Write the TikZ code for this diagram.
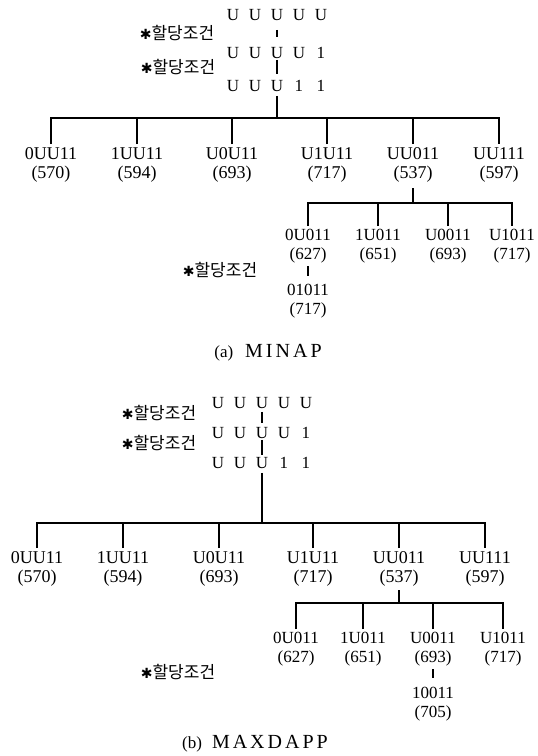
\documentclass[tikz,border=0pt]{standalone}
\usepackage{fontspec}
\setmainfont{Liberation Serif}
\newfontfamily\korfont{Noto Sans CJK KR}
\newfontfamily\symfont{DejaVu Sans}
\newcommand\condtext{{\symfont\fontsize{14}{14}\selectfont ✱}{\korfont 할당조건}}
\newcommand\cellrow[5]{\makebox[22pt]{#1}\makebox[22pt]{#2}\makebox[22pt]{#3}\makebox[22pt]{#4}\makebox[22pt]{#5}}
\tikzset{
  rowtext/.style={font=\fontsize{17}{17}\selectfont, inner sep=0pt},
  leaf/.style={font=\fontsize{18}{19}\selectfont, align=center, inner sep=3pt, anchor=north},
  leafb/.style={leaf, font=\fontsize{17}{19}\selectfont},
  condlbl/.style={font=\fontsize{17}{17}\selectfont, inner sep=0pt},
  captext/.style={font=\fontsize{20}{20}\selectfont, inner sep=0pt},
  edge/.style={line width=1.1pt}
}
\begin{document}
\begin{tikzpicture}[x=1pt,y=-1pt]
\useasboundingbox (0,0) rectangle (538,756);

% ---------- (a) MINAP ----------
\node[rowtext] (ar1) at (277,15) {\cellrow UUUUU};
\node[rowtext] (ar2) at (277,53) {\cellrow UUUU1};
\node[rowtext] (ar3) at (277,86) {\cellrow UUU11};
\node[condlbl] (acond1) at (177,33) {\condtext};
\node[condlbl] (acond2) at (178,67) {\condtext};
\coordinate (abus1) at (277,118);

\node[leaf] (aa1) at (51,144) {0UU11\\(570)};
\node[leaf] (aa2) at (137,144) {1UU11\\(594)};
\node[leaf] (aa3) at (232,144) {U0U11\\(693)};
\node[leaf] (aa4) at (327,144) {U1U11\\(717)};
\node[leaf] (aa5) at (413,144) {UU011\\(537)};
\node[leaf] (aa6) at (499,144) {UU111\\(597)};

\draw[edge, shorten <=9pt, shorten >=10pt] (ar1.south) -- (ar2.north);
\draw[edge, shorten <=1pt, shorten >=6pt] (ar2.south) -- (ar3.north);
\draw[edge, shorten <=4pt] (ar3.south) -- (abus1);
\draw[edge] (aa1.north) |- (abus1) -| (aa6.north);
\foreach \n in {aa2,aa3,aa4,aa5} \draw[edge] (\n.north) -- (\n.north |- abus1);

\coordinate (abus2) at (413,203);
\node[leafb] (ab1) at (308,226) {0U011\\(627)};
\node[leafb] (ab2) at (378,226) {1U011\\(651)};
\node[leafb] (ab3) at (448,226) {U0011\\(693)};
\node[leafb] (ab4) at (512,226) {U1011\\(717)};
\draw[edge, shorten <=3pt] (aa5.south) -- (abus2);
\draw[edge] (ab1.north) |- (abus2) -| (ab4.north);
\foreach \n in {ab2,ab3} \draw[edge] (\n.north) -- (\n.north |- abus2);

\node[leafb] (ac1) at (308,281) {01011\\(717)};
\draw[edge, shorten >=5pt] (ab1.south) -- (ac1.north);
\node[condlbl] (acond3) at (220,270) {\condtext};

\node[captext] (acap) at (268,353) {{\fontsize{17}{17}\selectfont (a)}\hspace{12pt}{\addfontfeatures{LetterSpace=15}MINAP}};

% ---------- (b) MAXDAPP ----------
\node[rowtext] (br1) at (262,403) {\cellrow UUUUU};
\node[rowtext] (br2) at (262,433) {\cellrow UUUU1};
\node[rowtext] (br3) at (262,463) {\cellrow UUU11};
\node[condlbl] (bcond1) at (159,413) {\condtext};
\node[condlbl] (bcond2) at (159,443) {\condtext};
\coordinate (bbus1) at (262,523);

\node[leaf] (ba1) at (37,548) {0UU11\\(570)};
\node[leaf] (ba2) at (123,548) {1UU11\\(594)};
\node[leaf] (ba3) at (219,548) {U0U11\\(693)};
\node[leaf] (ba4) at (313,548) {U1U11\\(717)};
\node[leaf] (ba5) at (399,548) {UU011\\(537)};
\node[leaf] (ba6) at (485,548) {UU111\\(597)};

\draw[edge, shorten <=3pt, shorten >=4pt] (br1.south) -- (br2.north);
\draw[edge, shorten <=1pt, shorten >=2pt] (br2.south) -- (br3.north);
\draw[edge, shorten <=4pt] (br3.south) -- (bbus1);
\draw[edge] (ba1.north) |- (bbus1) -| (ba6.north);
\foreach \n in {ba2,ba3,ba4,ba5} \draw[edge] (\n.north) -- (\n.north |- bbus1);

\coordinate (bbus2) at (399,603);
\node[leafb] (bb1) at (296,629) {0U011\\(627)};
\node[leafb] (bb2) at (363,629) {1U011\\(651)};
\node[leafb] (bb3) at (433,629) {U0011\\(693)};
\node[leafb] (bb4) at (503,629) {U1011\\(717)};
\draw[edge, shorten <=1pt] (ba5.south) -- (bbus2);
\draw[edge] (bb1.north) |- (bbus2) -| (bb4.north);
\foreach \n in {bb2,bb3} \draw[edge] (\n.north) -- (\n.north |- bbus2);

\node[leafb] (bc1) at (433,684) {10011\\(705)};
\draw[edge, shorten >=6pt] (bb3.south) -- (bc1.north);
\node[condlbl] (bcond3) at (178,672) {\condtext};

\node[captext] (bcap) at (255,744) {{\fontsize{17}{17}\selectfont (b)}\hspace{10pt}{\addfontfeatures{LetterSpace=15}MAXDAPP}};
\end{tikzpicture}
\end{document}
